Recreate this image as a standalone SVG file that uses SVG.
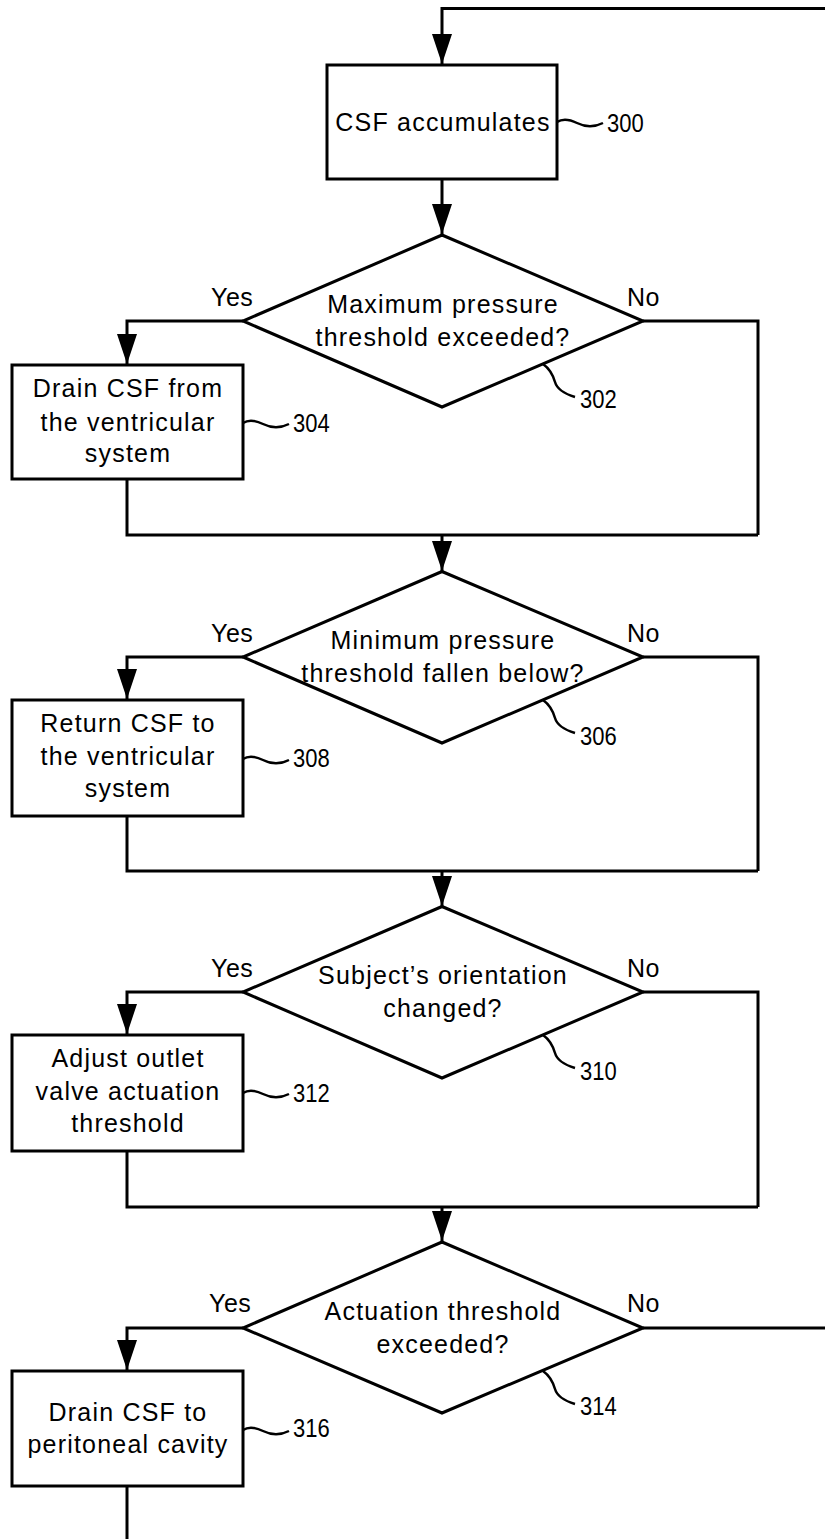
<svg xmlns="http://www.w3.org/2000/svg" width="825" height="1539" viewBox="0 0 825 1539">
<style>
  .ln{fill:none;stroke:#000;stroke-width:3}
  .shape{fill:#fff;stroke:#000;stroke-width:3}
  .t{font-family:"Liberation Sans",Arial,sans-serif;font-size:25px;letter-spacing:1.2px;fill:#000;text-anchor:middle}
  .yn{font-family:"Liberation Sans",Arial,sans-serif;font-size:25px;letter-spacing:0.5px;fill:#000}
  .num{font-family:"Liberation Sans",Arial,sans-serif;font-size:25px;fill:#000}
  .lead{fill:none;stroke:#000;stroke-width:2.5}
</style>
<defs>
  <marker id="ah" markerUnits="userSpaceOnUse" markerWidth="30" markerHeight="20" viewBox="0 0 30 20" refX="30" refY="10" orient="auto">
    <path d="M0,0 L30,10 L0,20 Z" fill="#000"/>
  </marker>
  <path id="tilde" d="M0,0 C6,-4 12,-3 20,1 C28,5 36,6 46,1"/>
  <path id="lead" d="M0,0 C7,5 10,11 12,18 C14,25 22,30 32,33"/>
</defs>
<rect width="825" height="1539" fill="#fff"/>

<g id="connectors">
  <path class="ln" d="M825,8.5 H442 V64" marker-end="url(#ah)"/>
  <path class="ln" d="M442,179 V234" marker-end="url(#ah)"/>
  <path class="ln" d="M243,321 H127 V364" marker-end="url(#ah)"/>
  <path class="ln" d="M127,479 V535 H758"/>
  <path class="ln" d="M643,321 H758 V535"/>
  <path class="ln" d="M442,535 V571" marker-end="url(#ah)"/>
  <path class="ln" d="M243,657 H127 V699" marker-end="url(#ah)"/>
  <path class="ln" d="M127,816 V871 H758"/>
  <path class="ln" d="M643,657 H758 V871"/>
  <path class="ln" d="M442,871 V906" marker-end="url(#ah)"/>
  <path class="ln" d="M243,992 H127 V1034" marker-end="url(#ah)"/>
  <path class="ln" d="M127,1151 V1207 H758"/>
  <path class="ln" d="M643,992 H758 V1207"/>
  <path class="ln" d="M442,1207 V1241" marker-end="url(#ah)"/>
  <path class="ln" d="M243,1328 H127 V1370" marker-end="url(#ah)"/>
  <path class="ln" d="M643,1328 H825"/>
  <path class="ln" d="M127,1486 V1539"/>
</g>

<g id="n300">
  <rect class="shape" x="327" y="65" width="230" height="114"/>
  <text class="t" x="443" y="131">CSF accumulates</text>
  <use href="#tilde" class="lead" x="557" y="122"/>
  <text class="num" transform="translate(607,132) scale(0.88,1)">300</text>
</g>

<g id="n302">
  <polygon class="shape" points="442,235 643,321 442,407 243,321"/>
  <text class="t" x="443" y="313">Maximum pressure</text>
  <text class="t" x="443" y="346">threshold exceeded?</text>
  <text class="yn" x="211" y="306">Yes</text>
  <text class="yn" x="627" y="306">No</text>
  <use href="#lead" class="lead" x="543" y="364"/>
  <text class="num" transform="translate(580,408) scale(0.88,1)">302</text>
</g>

<g id="n304">
  <rect class="shape" x="12" y="365" width="231" height="114"/>
  <text class="t" x="128" y="397">Drain CSF from</text>
  <text class="t" x="128" y="431">the ventricular</text>
  <text class="t" x="128" y="462">system</text>
  <use href="#tilde" class="lead" x="243" y="423"/>
  <text class="num" transform="translate(293,432) scale(0.88,1)">304</text>
</g>

<g id="n306">
  <polygon class="shape" points="442,571.5 643,657 442,743 243,657"/>
  <text class="t" x="443" y="649">Minimum pressure</text>
  <text class="t" x="443" y="682">threshold fallen below?</text>
  <text class="yn" x="211" y="642">Yes</text>
  <text class="yn" x="627" y="642">No</text>
  <use href="#lead" class="lead" x="543" y="700"/>
  <text class="num" transform="translate(580,745) scale(0.88,1)">306</text>
</g>

<g id="n308">
  <rect class="shape" x="12" y="700" width="231" height="116"/>
  <text class="t" x="128" y="732">Return CSF to</text>
  <text class="t" x="128" y="765">the ventricular</text>
  <text class="t" x="128" y="797">system</text>
  <use href="#tilde" class="lead" x="243" y="759"/>
  <text class="num" transform="translate(293,767) scale(0.88,1)">308</text>
</g>

<g id="n310">
  <polygon class="shape" points="442,906.5 643,992 442,1078 243,992"/>
  <text class="t" x="443" y="984">Subject’s orientation</text>
  <text class="t" x="443" y="1017">changed?</text>
  <text class="yn" x="211" y="977">Yes</text>
  <text class="yn" x="627" y="977">No</text>
  <use href="#lead" class="lead" x="543" y="1035"/>
  <text class="num" transform="translate(580,1080) scale(0.88,1)">310</text>
</g>

<g id="n312">
  <rect class="shape" x="12" y="1035" width="231" height="116"/>
  <text class="t" x="128" y="1067">Adjust outlet</text>
  <text class="t" x="128" y="1100">valve actuation</text>
  <text class="t" x="128" y="1132">threshold</text>
  <use href="#tilde" class="lead" x="243" y="1093"/>
  <text class="num" transform="translate(293,1102) scale(0.88,1)">312</text>
</g>

<g id="n314">
  <polygon class="shape" points="442,1242 643,1328 442,1413 243,1328"/>
  <text class="t" x="443" y="1320">Actuation threshold</text>
  <text class="t" x="443" y="1353">exceeded?</text>
  <text class="yn" x="209" y="1312">Yes</text>
  <text class="yn" x="627" y="1312">No</text>
  <use href="#lead" class="lead" x="543" y="1371"/>
  <text class="num" transform="translate(580,1415) scale(0.88,1)">314</text>
</g>

<g id="n316">
  <rect class="shape" x="12" y="1371" width="231" height="115"/>
  <text class="t" x="128" y="1421">Drain CSF to</text>
  <text class="t" x="128" y="1453">peritoneal cavity</text>
  <use href="#tilde" class="lead" x="243" y="1430"/>
  <text class="num" transform="translate(293,1437) scale(0.88,1)">316</text>
</g>
</svg>
